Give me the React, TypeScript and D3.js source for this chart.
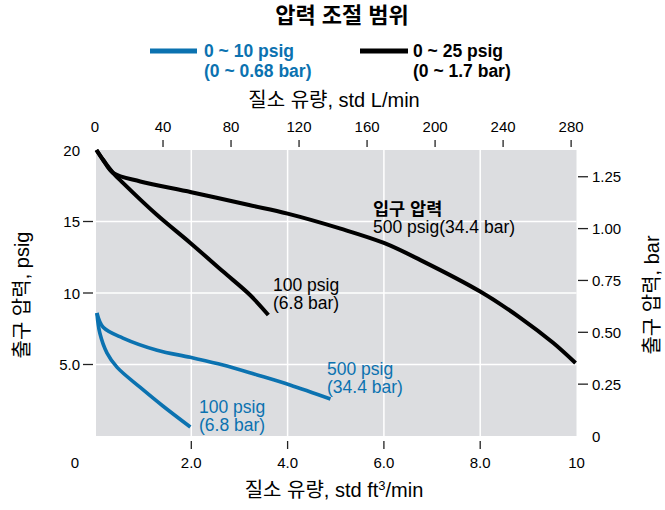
import React from "react";
import * as d3 from "d3";

// ---- data (flow in std ft3/min, outlet pressure in psig) ----
const black500Flow = [0.03, 0.17, 0.375, 0.94, 2.0, 3.2, 4.0, 5.1, 6.0, 6.76, 8.0, 8.84, 9.52, 9.98];
const black500Psig = [20, 19.3, 18.4, 17.8, 17.05, 16.15, 15.55, 14.5, 13.5, 12.3, 10.1, 8.25, 6.5, 5.1];

const black100Flow = [0.03, 0.17, 0.375, 0.58, 1.29, 1.98, 2.66, 3.22, 3.6];
const black100Psig = [20, 19.3, 18.4, 17.7, 15.45, 13.5, 11.5, 9.86, 8.46];

const blue500Flow = [0.04, 0.17, 0.58, 1.29, 1.98, 2.66, 3.37, 4.05, 4.89];
const blue500Psig = [8.6, 7.6, 6.85, 6.0, 5.5, 4.97, 4.27, 3.57, 2.59];

const blue100Flow = [0.04, 0.1, 0.25, 0.46, 0.94, 1.41, 1.98];
const blue100Psig = [8.6, 7.2, 5.8, 4.8, 3.4, 2.1, 0.63];

const bottomTicks = [2, 4, 6, 8, 10];
const bottomTickLabels = ["2.0", "4.0", "6.0", "8.0", "10"];
const topTicks = [0, 40, 80, 120, 160, 200, 240, 280];
const leftTicks = [20, 15, 10, 5];
const leftTickLabels = ["20", "15", "10", "5.0"];
const rightTicks = [1.25, 1.0, 0.75, 0.5, 0.25];
const rightTickLabels = ["1.25", "1.00", "0.75", "0.50", "0.25"];

const BLUE = "#0b72b0";
const FONT = "'Liberation Sans', Arial, 'Noto Sans CJK KR', sans-serif";

export default function App() {
  const x = d3.scaleLinear().domain([0, 10]).range([95, 576.5]);
  const y = d3.scaleLinear().domain([0, 20]).range([436, 150]);
  const LPM = 28.3168;
  const xL = (l: number) => x(l / LPM);
  const BAR = 14.5038;
  const yBar = (b: number) => y(b * BAR);

  const line = d3
    .line<[number, number]>()
    .x((d) => x(d[0]))
    .y((d) => y(d[1]))
    .curve(d3.curveCatmullRom.alpha(0.5));

  const zip = (a: number[], b: number[]) => a.map((v, i) => [v, b[i]] as [number, number]);

  const series = [
    { f: black500Flow, p: black500Psig, c: "#000", w: 4 },
    { f: black100Flow, p: black100Psig, c: "#000", w: 4 },
    { f: blue500Flow, p: blue500Psig, c: BLUE, w: 3.6 },
    { f: blue100Flow, p: blue100Psig, c: BLUE, w: 3.6 },
  ];

  return (
    <svg
      width={665}
      height={510}
      style={{ position: "absolute", left: 0, top: 0, background: "#fff" }}
      fontFamily={FONT}
    >
      {/* title */}
      <text x={342} y={23} textAnchor="middle" fontSize={22} fontWeight="bold">
        압력 조절 범위
      </text>

      {/* legend */}
      <line x1={150} x2={197} y1={51} y2={51} stroke={BLUE} strokeWidth={5} />
      <text x={204} y={57} fontSize={17.5} fontWeight="bold" fill={BLUE}>0 ~ 10 psig</text>
      <text x={204} y={77} fontSize={17.5} fontWeight="bold" fill={BLUE}>(0 ~ 0.68 bar)</text>
      <line x1={360} x2={408} y1={51} y2={51} stroke="#000" strokeWidth={5} />
      <text x={413} y={57} fontSize={17.5} fontWeight="bold" fill="#000">0 ~ 25 psig</text>
      <text x={413} y={77} fontSize={17.5} fontWeight="bold" fill="#000">(0 ~ 1.7 bar)</text>

      {/* top axis title */}
      <text x={334} y={107} textAnchor="middle" fontSize={20}>
        질소 유량, std L/min
      </text>

      {/* plot background */}
      <rect x={x(0) + 1} y={y(20)} width={x(10) - x(0) - 1} height={y(0) - y(20)} fill="#dcdde0" />

      {/* grid */}
      {[2, 4, 6, 8].map((v) => (
        <line key={"gx" + v} x1={x(v)} x2={x(v)} y1={y(20)} y2={y(0)} stroke="#fff" strokeWidth={1.5} />
      ))}
      {[15, 10, 5].map((v) => (
        <line key={"gy" + v} x1={x(0) + 1} x2={x(10)} y1={y(v)} y2={y(v)} stroke="#fff" strokeWidth={1.5} />
      ))}

      {/* top ticks */}
      {topTicks.map((t) => (
        <g key={"t" + t}>
          {t > 0 && <line x1={xL(t)} x2={xL(t)} y1={140} y2={147} stroke="#222" strokeWidth={1.3} />}
          <text x={xL(t)} y={132} textAnchor="middle" fontSize={15}>{t}</text>
        </g>
      ))}

      {/* bottom ticks */}
      {bottomTicks.map((t, i) => (
        <g key={"b" + t}>
          {t < 10 && <line x1={x(t)} x2={x(t)} y1={441} y2={449} stroke="#222" strokeWidth={1.3} />}
          <text x={x(t)} y={468} textAnchor="middle" fontSize={15}>{bottomTickLabels[i]}</text>
        </g>
      ))}

      {/* left ticks */}
      {leftTicks.map((t, i) => (
        <g key={"l" + t}>
          {t < 20 && <line x1={83} x2={93} y1={y(t)} y2={y(t)} stroke="#222" strokeWidth={1.3} />}
          <text x={80} y={y(t) + 5.5} textAnchor="end" fontSize={15}>{leftTickLabels[i]}</text>
        </g>
      ))}
      <text x={75} y={467.5} textAnchor="middle" fontSize={15}>0</text>

      {/* right ticks */}
      {rightTicks.map((t, i) => (
        <g key={"r" + t}>
          <line x1={578} x2={588} y1={yBar(t)} y2={yBar(t)} stroke="#222" strokeWidth={1.3} />
          <text x={592} y={yBar(t) + 5.5} fontSize={15}>{rightTickLabels[i]}</text>
        </g>
      ))}
      <text x={592} y={y(0) + 6} fontSize={15}>0</text>

      {/* axis titles */}
      <text x={334} y={497} textAnchor="middle" fontSize={20}>
        질소 유량, std ft<tspan fontSize={13} dy={-7}>3</tspan><tspan dy={7}>/min</tspan>
      </text>
      <text transform="translate(29,295) rotate(-90)" textAnchor="middle" fontSize={20}>
        출구 압력, psig
      </text>
      <text transform="translate(659,295) rotate(-90)" textAnchor="middle" fontSize={20}>
        출구 압력, bar
      </text>

      {/* curves */}
      {series.map((s, i) => (
        <path
          key={"s" + i}
          d={line(zip(s.f, s.p)) || ""}
          fill="none"
          stroke={s.c}
          strokeWidth={s.w}
          strokeLinecap="butt"
        />
      ))}

      {/* curve labels */}
      <text x={373} y={215} fontSize={17.5} fontWeight="bold">입구 압력</text>
      <text x={373} y={233} fontSize={17.5}>500 psig(34.4 bar)</text>
      <text x={273} y={291} fontSize={17.5}>100 psig</text>
      <text x={273} y={309} fontSize={17.5}>(6.8 bar)</text>
      <text x={327} y={375} fontSize={17.5} fill={BLUE}>500 psig</text>
      <text x={327} y={393} fontSize={17.5} fill={BLUE}>(34.4 bar)</text>
      <text x={199} y={413} fontSize={17.5} fill={BLUE}>100 psig</text>
      <text x={199} y={431} fontSize={17.5} fill={BLUE}>(6.8 bar)</text>
    </svg>
  );
}
